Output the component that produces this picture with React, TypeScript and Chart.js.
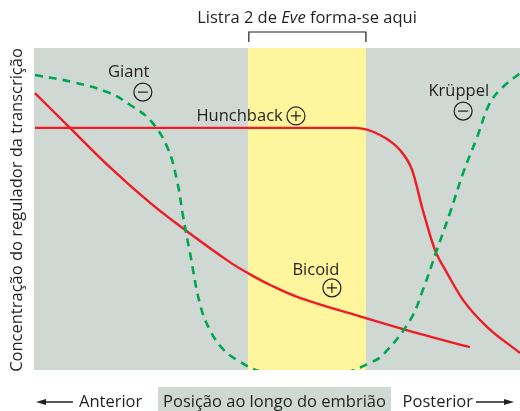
import React, { useEffect, useRef } from "react";
import { Chart, registerables } from "chart.js";

Chart.register(...registerables);

// Data (x: position 0..100 anterior->posterior, y: concentration 0..100)
const bicoidX = [0.2, 7.4, 15.6, 23.9, 31.1, 40.3, 44.0, 48.6, 54.7, 68.3, 79.4, 89.7];
const bicoidY = [86.0, 75.2, 63.0, 51.9, 43.5, 33.5, 30.1, 26.4, 22.4, 16.1, 11.2, 7.1];

const hunchbackX = [0.2, 34.2, 66.0, 71.2, 75.3, 77.8, 80.0, 82.5, 85.0, 88.3, 93.2, 100];
const hunchbackY = [75.2, 75.2, 75.2, 73.0, 68.3, 62.1, 49.7, 37.3, 30.1, 21.7, 13.4, 5.3];

const giantX = [0.2, 8.0, 15.6, 19.8, 23.9, 27.4, 29.4, 30.7, 32.1, 34.2, 36.2, 38.7, 41.8, 46.9, 55.8];
const giantY = [91.6, 89.4, 86.0, 82.3, 77.6, 69.3, 59.0, 47.5, 36.3, 20.2, 12.4, 6.8, 3.1, -0.6, -2.5];

const kruppelX = [55.8, 64.6, 69.1, 71.8, 77.4, 80.0, 82.9, 85.6, 88.3, 91.2, 93.8, 96.5, 100];
const kruppelY = [-2.5, -0.6, 2.2, 4.7, 15.5, 24.8, 37.3, 48.8, 61.2, 72.4, 82.9, 87.9, 92.2];

const stripeStart = 44.0;
const stripeEnd = 68.3;

const labels = [
  { text: "Giant", x: 19.5, y: 91.0, sign: "-", cx: 22.4, cy: 86.3 },
  { text: "Hunchback", x: 42.3, y: 77.3, sign: "+", cx: 53.9, cy: 78.9 },
  { text: "Krüppel", x: 87.4, y: 85.1, sign: "-", cx: 88.3, cy: 80.4 },
  { text: "Bicoid", x: 58.0, y: 29.5, sign: "+", cx: 61.3, cy: 25.5 },
];

const topTitleParts = ["Listra 2 de ", "Eve", " forma-se aqui"];
const yTitle = "Concentração do regulador da transcrição";
const xTitle = "Posição ao longo do embrião";
const leftLabel = "Anterior";
const rightLabel = "Posterior";

const FONT = "'Open Sans', 'Noto Sans', sans-serif";
const FS = 16.5;
const TEXT = "#231f20";
const RED = "#ee1c25";
const GREEN = "#00a651";
const BG = "#cfd8d3";

const toPts = (xs: number[], ys: number[]) => xs.map((x, i) => ({ x, y: ys[i] }));

const decor = {
  id: "decor",
  beforeDatasetsDraw(chart: any) {
    const { ctx, chartArea: a, scales } = chart;
    ctx.save();
    ctx.fillStyle = BG;
    ctx.fillRect(a.left, a.top, a.right - a.left, a.bottom - a.top);
    const x0 = scales.x.getPixelForValue(stripeStart);
    const x1 = scales.x.getPixelForValue(stripeEnd);
    ctx.fillStyle = "#fff59d";
    ctx.fillRect(x0, a.top, x1 - x0, a.bottom - a.top);
    ctx.restore();
  },
  afterDraw(chart: any) {
    const { ctx, chartArea: a, scales } = chart;
    const sx = scales.x, sy = scales.y;
    ctx.save();
    ctx.fillStyle = TEXT;
    ctx.strokeStyle = TEXT;
    ctx.textBaseline = "alphabetic";
    ctx.font = `${FS}px ${FONT}`;
    for (const l of labels) {
      ctx.textAlign = "center";
      ctx.fillStyle = TEXT;
      ctx.fillText(l.text, sx.getPixelForValue(l.x), sy.getPixelForValue(l.y));
      const cx = sx.getPixelForValue(l.cx), cy = sy.getPixelForValue(l.cy);
      ctx.lineWidth = 1.2;
      ctx.beginPath();
      ctx.arc(cx, cy, 9, 0, Math.PI * 2);
      ctx.stroke();
      ctx.beginPath();
      ctx.moveTo(cx - 5, cy);
      ctx.lineTo(cx + 5, cy);
      if (l.sign === "+") {
        ctx.moveTo(cx, cy - 5);
        ctx.lineTo(cx, cy + 5);
      }
      ctx.stroke();
    }
    // top title
    const x0 = sx.getPixelForValue(stripeStart);
    const x1 = sx.getPixelForValue(stripeEnd);
    const fN = `${FS}px ${FONT}`, fI = `italic ${FS}px ${FONT}`;
    ctx.font = fN; const w0 = ctx.measureText(topTitleParts[0]).width;
    ctx.font = fI; const w1 = ctx.measureText(topTitleParts[1]).width;
    ctx.font = fN; const w2 = ctx.measureText(topTitleParts[2]).width;
    let tx = 307 - (w0 + w1 + w2) / 2;
    ctx.textAlign = "left";
    const ty = 23;
    ctx.font = fN; ctx.fillText(topTitleParts[0], tx, ty); tx += w0;
    ctx.font = fI; ctx.fillText(topTitleParts[1], tx, ty); tx += w1;
    ctx.font = fN; ctx.fillText(topTitleParts[2], tx, ty);
    // bracket
    ctx.lineWidth = 1.2;
    ctx.beginPath();
    ctx.moveTo(x0 + 1, a.top - 6);
    ctx.lineTo(x0 + 1, a.top - 16);
    ctx.lineTo(x1, a.top - 16);
    ctx.lineTo(x1, a.top - 6);
    ctx.stroke();
    // y title
    ctx.save();
    ctx.translate(22, (a.top + a.bottom) / 2 + 1);
    ctx.rotate(-Math.PI / 2);
    ctx.textAlign = "center";
    ctx.font = fN;
    ctx.fillText(yTitle, 0, 0);
    ctx.restore();
    // bottom
    const by = 407;
    ctx.font = fN;
    ctx.fillStyle = BG;
    ctx.fillRect(158, 387, 233, 24);
    ctx.fillStyle = TEXT;
    ctx.textAlign = "center";
    ctx.fillText(xTitle, 274.5, by);
    ctx.textAlign = "left";
    ctx.fillText(leftLabel, 79, by);
    ctx.textAlign = "right";
    ctx.fillText(rightLabel, 473, by);
    // arrows
    ctx.lineWidth = 1.5;
    ctx.beginPath();
    ctx.moveTo(44, 402); ctx.lineTo(73, 402);
    ctx.moveTo(476, 402); ctx.lineTo(506, 402);
    ctx.stroke();
    ctx.beginPath();
    ctx.moveTo(36, 402); ctx.lineTo(46, 399); ctx.lineTo(46, 405); ctx.closePath();
    ctx.moveTo(514, 402); ctx.lineTo(504, 399); ctx.lineTo(504, 405); ctx.closePath();
    ctx.fill();
    ctx.restore();
  },
};

export default function App() {
  const ref = useRef<HTMLCanvasElement | null>(null);
  useEffect(() => {
    document.body.style.margin = "0";
    const lineDs = (label: string, data: any[], color: string, dashed: boolean, mono: boolean) => ({
      label,
      data,
      borderColor: color,
      borderWidth: dashed ? 2.6 : 2.4,
      borderDash: dashed ? [8, 6] : [],
      pointRadius: 0,
      fill: false,
      tension: 0.4,
      cubicInterpolationMode: mono ? ("monotone" as const) : ("default" as const),
    });
    const chart = new Chart(ref.current!, {
      type: "line",
      data: {
        datasets: [
          lineDs("Giant", toPts(giantX, giantY), GREEN, true, false),
          lineDs("Krüppel", toPts(kruppelX, kruppelY), GREEN, true, false),
          lineDs("Bicoid", toPts(bicoidX, bicoidY), RED, false, false),
          lineDs("Hunchback", toPts(hunchbackX, hunchbackY), RED, false, true),
        ],
      },
      options: {
        animation: false,
        responsive: false,
        maintainAspectRatio: false,
        layout: { padding: { left: 34, right: 0, top: 48, bottom: 41 } },
        plugins: { legend: { display: false }, tooltip: { enabled: false } },
        scales: {
          x: { type: "linear", min: 0, max: 100, display: false },
          y: { type: "linear", min: 0, max: 100, display: false },
        },
      },
      plugins: [decor],
    });
    return () => chart.destroy();
  }, []);
  return <canvas ref={ref} width={520} height={411} style={{ display: "block" }} />;
}
